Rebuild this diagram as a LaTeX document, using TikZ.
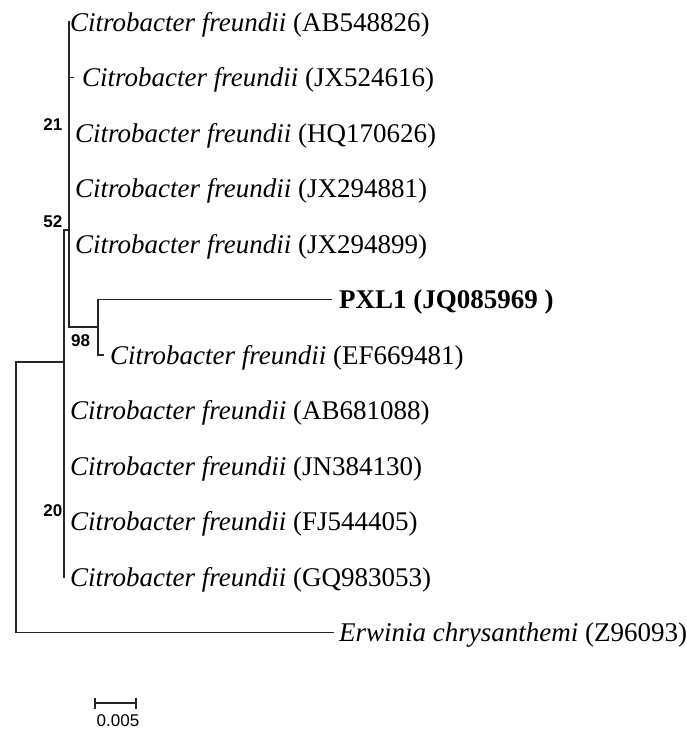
\documentclass[tikz,border=0pt]{standalone}
\usepackage{fontspec}
\setmainfont{Liberation Serif}
\setsansfont{Liberation Sans}
\begin{document}
\begin{tikzpicture}[x=1pt,y=-1pt,
  br/.style={line width=1.7pt,color=black!85,line cap=rect},
  tip/.style={anchor=base west,inner sep=0pt,font=\fontsize{27}{30}\selectfont},
  boot/.style={inner sep=0pt,font=\sffamily\bfseries\fontsize{17}{19}\selectfont},
  scl/.style={inner sep=0pt,font=\sffamily\fontsize{17}{19}\selectfont}]
\useasboundingbox (0,0) rectangle (687,729);
% internal nodes
\coordinate (R) at (16,497);
\coordinate (A) at (64,362);
\coordinate (Atop) at (64,230);
\coordinate (Abot) at (64,577);
\coordinate (B) at (69,230);
\coordinate (Btop) at (69,22);
\coordinate (C) at (69,327);
\coordinate (D) at (98,327);
% tips
\coordinate (t2a) at (69,77.5);
\coordinate (t2b) at (73,77.5);
\coordinate (tP) at (331,299.5);
\coordinate (tEF) at (103,355);
\coordinate (tE) at (333,632.5);
% branches
\draw[br] (A) -| (R) |- (tE);
\draw[br] (Atop) -- (Abot);
\draw[br] (Atop) -- (B);
\draw[br] (Btop) -- (C) -- (D);
\draw[br] (tP) -| (D) |- (tEF);
\draw[br] (t2a) -- (t2b);
% labels
\node[tip] (l1) at (70,31) {\textit{Citrobacter freundii} (AB548826)};
\node[tip] (l2) at (82,86.5) {\textit{Citrobacter freundii} (JX524616)};
\node[tip] (l3) at (75,142) {\textit{Citrobacter freundii} (HQ170626)};
\node[tip] (l4) at (75,197.5) {\textit{Citrobacter freundii} (JX294881)};
\node[tip] (l5) at (75,253) {\textit{Citrobacter freundii} (JX294899)};
\node[tip] (l6) at (339,308.5) {\textbf{PXL1 (JQ085969 )}};
\node[tip] (l7) at (110,364) {\textit{Citrobacter freundii} (EF669481)};
\node[tip] (l8) at (70,419.5) {\textit{Citrobacter freundii} (AB681088)};
\node[tip] (l9) at (70,475) {\textit{Citrobacter freundii} (JN384130)};
\node[tip] (l10) at (70,530.5) {\textit{Citrobacter freundii} (FJ544405)};
\node[tip] (l11) at (70,586) {\textit{Citrobacter freundii} (GQ983053)};
\node[tip] (l12) at (339,641.5) {\textit{Erwinia chrysanthemi} (Z96093)};
% bootstrap values
\node[boot,anchor=east] (b21) at (62.5,125) {21};
\node[boot,anchor=east] (b52) at (62.5,222) {52};
\node[boot,anchor=west] (b98) at (71,341) {98};
\node[boot,anchor=east] (b20) at (62.5,511) {20};
% scale bar
\coordinate (s1) at (95,703);
\coordinate (s2) at (136,703);
\draw[line width=1.5pt,color=black!85] (s1) -- (s2);
\draw[line width=1.5pt,color=black!85] ([yshift=-5.5pt]s1) -- ([yshift=5.5pt]s1);
\draw[line width=1.5pt,color=black!85] ([yshift=-5.5pt]s2) -- ([yshift=5.5pt]s2);
\node[scl] (sl) at (118,721) {0.005};
\end{tikzpicture}
\end{document}
